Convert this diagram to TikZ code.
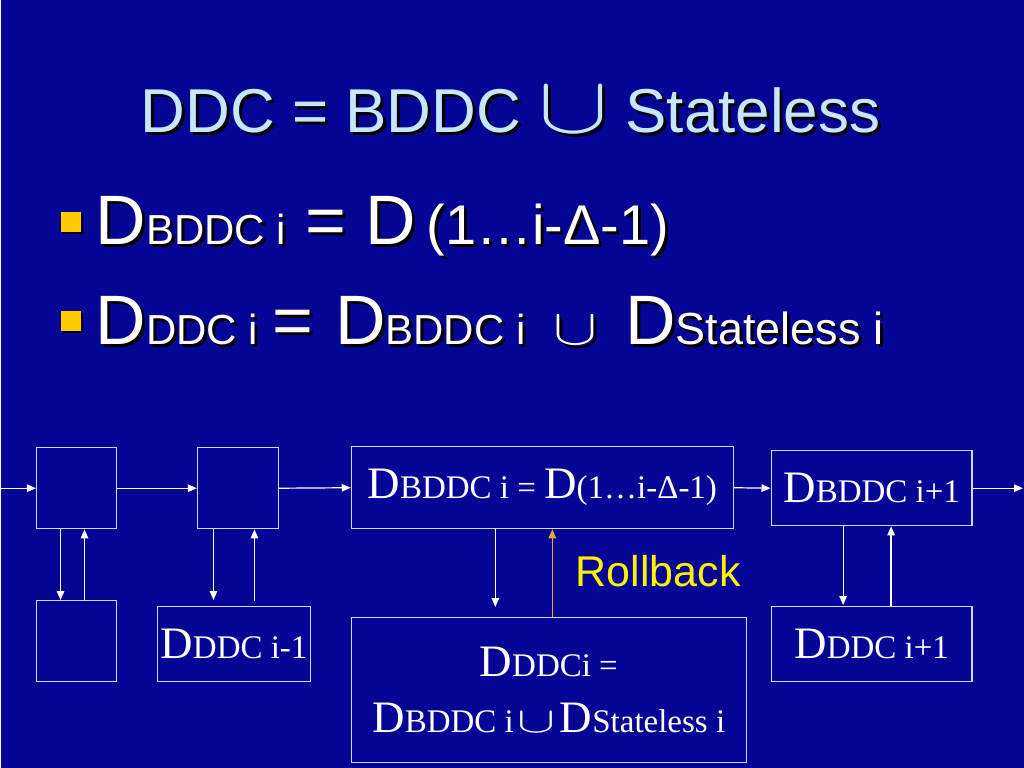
\documentclass[tikz,border=0pt]{standalone}
\usepackage{fontspec}
\setmainfont{Liberation Serif}
\newfontfamily\arial{Liberation Sans}
\usetikzlibrary{arrows.meta,shadows}
\definecolor{slideblue}{RGB}{6,6,150}
\definecolor{titleblue}{RGB}{200,230,255}
\definecolor{bulletgold}{RGB}{255,204,0}
\definecolor{rollorange}{RGB}{240,170,50}
\definecolor{boxline}{RGB}{215,215,255}
\newcommand\Dbig{{\fontsize{45}{45}\selectfont D}}
\newcommand\sm[1]{{\fontsize{42}{42}\selectfont #1}}
\newcommand\cupsym[2]{\resizebox{#1}{#2}{$\cup$}}
\newcommand\shtext[4]{\node[txt,text=black,xshift=3pt,yshift=-3pt] (#1s) at #2 {#4};
\node[txt,text=#3] (#1) at #2 {#4};}

\begin{document}
\begin{tikzpicture}[x=1pt,y=-1pt,
box/.style={draw=boxline,line width=1.3pt,inner sep=0pt,text=white,font=\fontsize{33}{56}\selectfont},
arr/.style={white,line width=1.2pt,-{Triangle[length=9pt,width=7.5pt]}},
txt/.style={anchor=base west,inner sep=0pt,font=\arial\fontsize{70}{70}\selectfont},
bul/.style={fill=bulletgold,minimum size=20pt,inner sep=0pt,drop shadow={shadow xshift=2pt,shadow yshift=-2pt,opacity=1,fill=black}}]
\fill[slideblue](0,0)rectangle(1024,768);
\shtext{title}{(140,133)}{titleblue}{\fontsize{62}{62}\selectfont DDC = BDDC \cupsym{70pt}{45pt} Stateless}
\node[bul] (bul1) at (70.5,222) {};
\node[bul] (bul2) at (70.5,321) {};
\shtext{line1}{(95,245)}{white}{D\sm{BDDC i} = D\hspace{10pt}{\fontsize{56}{56}\selectfont (1…i-Δ-1)}}
\shtext{line2}{(95,345)}{white}{D\sm{DDC i}\hspace{14pt}=\hspace{22pt}D\sm{BDDC i}\hspace{28pt}\cupsym{44pt}{28pt}\hspace{28pt}D{\fontsize{45}{45}\selectfont Stateless i}}
\node[box,minimum width=80pt,minimum height=81pt] (a1) at (76,488.5) {};
\node[box,minimum width=80pt,minimum height=81pt] (a2) at (76,641.5) {};
\node[box,minimum width=81pt,minimum height=81pt] (b1) at (237.5,488.5) {};
\node[box,minimum width=153pt,minimum height=75pt] (b2) at (233.5,644.5) {\Dbig DDC i-1};
\node[box,minimum width=382pt,minimum height=82pt] (c1) at (542,488) {\Dbig BDDC i = \Dbig(1…i-Δ-1)};
\node[box,minimum width=395pt,minimum height=145pt,align=center] (c2) at (548.5,690.5) {\Dbig DDCi =\\\Dbig BDDC i\hspace{4pt}\cupsym{38pt}{20pt}\hspace{4pt}\Dbig Stateless i};
\node[box,minimum width=201pt,minimum height=75pt] (d1) at (871.5,488.5) {\Dbig BDDC i+1};
\node[box,minimum width=201pt,minimum height=75pt] (d2) at (871.5,644.5) {\Dbig DDC i+1};
\node[inner sep=0pt,text=yellow,font=\arial\fontsize{43}{43}\selectfont] (roll) at (658,571) {Rollback};
\coordinate (in) at (0,488.5);
\coordinate (out) at (1023,488.5);
\draw[arr](in)--(a1.west);
\draw[arr](a1.east)--(b1.west);
\draw[arr](b1.east)--(c1.west);
\draw[arr](c1.east)--(d1.west);
\draw[arr](d1.east)--(out);
\draw[arr]([xshift=-16pt]a1.south)--([xshift=-16pt]a2.north);
\draw[arr]([xshift=8pt]a2.north)--([xshift=8pt]a1.south);
\draw[arr]([xshift=-24.5pt]b1.south)--([xshift=-20.5pt,yshift=6pt]b2.north);
\draw[arr]([xshift=20.5pt,yshift=5pt]b2.north)--([xshift=16.5pt]b1.south);
\draw[arr]([xshift=-47pt]c1.south)--([xshift=-53.5pt,yshift=10pt]c2.north);
\draw[arr,rollorange,line width=1pt]([xshift=3.5pt]c2.north)--([xshift=10pt]c1.south);
\draw[arr]([xshift=-28.5pt]d1.south)--([xshift=-28.5pt,yshift=1pt]d2.north);
\draw[arr]([xshift=19.5pt]d2.north)--([xshift=19.5pt]d1.south);
\end{tikzpicture}
\end{document}
